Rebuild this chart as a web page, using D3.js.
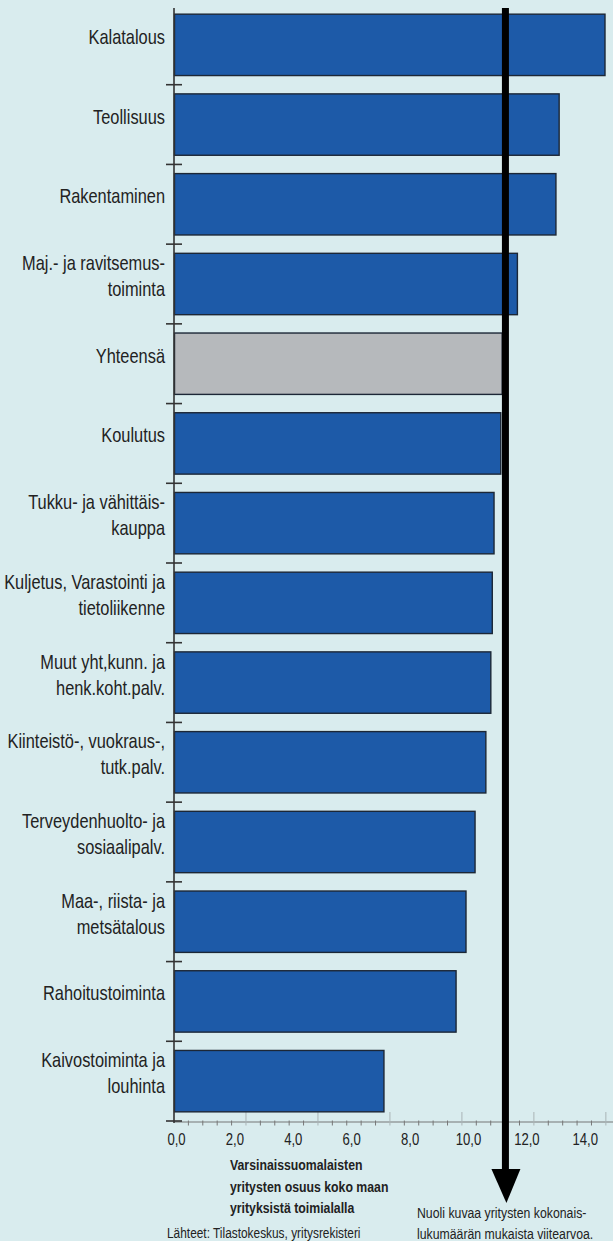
<!DOCTYPE html>
<html><head><meta charset="utf-8">
<script src="https://cdn.jsdelivr.net/npm/d3@7"></script>
<style>
html,body{margin:0;padding:0;background:#d9ecee;}
svg{display:block;}
</style></head>
<body>
<svg id="chart" width="613" height="1241"></svg>
<script>
// ---- data ----
const categories = [
  ["Kalatalous"],
  ["Teollisuus"],
  ["Rakentaminen"],
  ["Maj.- ja ravitsemus-","toiminta"],
  ["Yhteensä"],
  ["Koulutus"],
  ["Tukku- ja vähittäis-","kauppa"],
  ["Kuljetus, Varastointi ja","tietoliikenne"],
  ["Muut yht,kunn. ja","henk.koht.palv."],
  ["Kiinteistö-, vuokraus-,","tutk.palv."],
  ["Terveydenhuolto- ja","sosiaalipalv."],
  ["Maa-, riista- ja","metsätalous"],
  ["Rahoitustoiminta"],
  ["Kaivostoiminta ja","louhinta"]
];
const values = [14.76, 13.19, 13.08, 11.76, 11.24, 11.19, 10.96, 10.90, 10.85, 10.68, 10.31, 10.0, 9.66, 7.19];
const totalCategory = "Yhteensä";
const referenceValue = 11.35;
const tickLabels = ["0,0","2,0","4,0","6,0","8,0","10,0","12,0","14,0"];
const tickValues = [0,2,4,6,8,10,12,14];
const titleLines = ["Varsinaissuomalaisten","yritysten osuus koko maan","yrityksistä toimialalla"];
const sourceText = "Lähteet: Tilastokeskus, yritysrekisteri";
const noteLines = ["Nuoli kuvaa yritysten kokonais-","lukumäärän mukaista viitearvoa."];

// ---- setup ----
const svg = d3.select("#chart");
svg.append("rect").attr("width",613).attr("height",1241).attr("fill","#d9ecee");

// font detection: narrow font available?
const probe = svg.append("text").style("font-family","'Liberation Sans Narrow'").style("font-size","20px").text("Kalatalous");
const wN = probe.node().getComputedTextLength();
probe.style("font-family","'Liberation Sans'");
const wR = probe.node().getComputedTextLength();
probe.remove();
const narrowOK = wN < wR*0.9;
const FONT = narrowOK ? "'Liberation Sans Narrow', 'Liberation Sans', Arial, sans-serif" : "'Liberation Sans', Arial, sans-serif";
const SX = narrowOK ? 1 : 0.82;

function addText(parent, x, y, str, opts={}) {
  const g = parent.append("g").attr("transform",`translate(${x},${y}) scale(${SX},1)`);
  const t = g.append("text")
    .attr("x",0).attr("y",0)
    .style("font-family",FONT)
    .style("font-size",(opts.size||15)+"px")
    .style("font-weight",opts.weight||"normal")
    .attr("fill",opts.fill||"#222")
    .attr("text-anchor",opts.anchor||"start")
    .text(str);
  return t;
}

const x = d3.scaleLinear().domain([0,15]).range([174,612]);
const keys = categories.map(c=>c.join(" "));
const y = d3.scaleBand().domain(keys).range([5,1121]).paddingInner(0.23).paddingOuter(0.115);

// ---- x axis ----
const axisY = 1122;
const minorStep = 0.493;
const minorTicks = d3.range(1, 31).map(k=>k*minorStep).filter(v=>x(v)<=612);
const gx = svg.append("g");
gx.append("line").attr("x1",x(0)).attr("x2",613).attr("y1",axisY).attr("y2",axisY).attr("stroke","#777").attr("stroke-width",1.2);
minorTicks.forEach((v,i)=>{
  const major = (i+1)%5===0;
  gx.append("line").attr("x1",x(v)).attr("x2",x(v))
    .attr("y1", major? axisY-10 : axisY-1.5).attr("y2",axisY+3.5)
    .attr("stroke", major? "#aab4b6" : "#777").attr("stroke-width",1);
});
tickValues.forEach((v,i)=>{
  addText(gx, x(v)+2.5, 1145, tickLabels[i], {size:16, anchor:"middle"});
});

// ---- bars ----
const gb = svg.append("g");
gb.selectAll("rect.bar").data(values).enter().append("rect")
  .attr("class","bar")
  .attr("x",x(0)+0.5)
  .attr("y",(d,i)=>y(keys[i]))
  .attr("width",d=>x(d)-x(0)-0.5)
  .attr("height",y.bandwidth())
  .attr("fill",(d,i)=>categories[i][0]===totalCategory? "#b6b9bc" : "#1d5aa8")
  .attr("stroke","#1c2736").attr("stroke-width",1.4);

// ---- y axis ----
const gy = svg.append("g");
gy.append("line").attr("x1",x(0)).attr("x2",x(0)).attr("y1",8).attr("y2",axisY+1).attr("stroke","#333").attr("stroke-width",1.6);
const step = y.step();
keys.forEach((k,i)=>{
  const yy = y(k) + y.bandwidth() + step*y.paddingInner()/2;
  gy.append("line").attr("x1",x(0)-8).attr("x2",x(0)+8).attr("y1",yy).attr("y2",yy).attr("stroke","#333").attr("stroke-width",1.6);
});

// ---- category labels ----
categories.forEach((lines,i)=>{
  const c = y(keys[i]) + y.bandwidth()/2;
  const n = lines.length;
  lines.forEach((ln,j)=>{
    addText(svg, 165, c + (j-(n-1)/2)*26 - 1, ln, {size:20, anchor:"end"});
  });
});

// ---- reference arrow ----
const ax = x(referenceValue);
svg.append("rect").attr("x",ax-3.5).attr("y",8).attr("width",7).attr("height",1170-8).attr("fill","#000");
svg.append("path").attr("d",`M${ax-14},1169 L${ax+15},1169 L${ax+1},1203 Z`).attr("fill","#000");

// ---- texts ----
titleLines.forEach((t,i)=>addText(svg, 230, 1170 + i*21.5, t, {size:15, weight:"bold"}));
addText(svg, 167, 1238, sourceText, {size:14.5});
noteLines.forEach((t,i)=>addText(svg, 417, 1218 + i*20.5, t, {size:15}));
</script>
</body></html>
